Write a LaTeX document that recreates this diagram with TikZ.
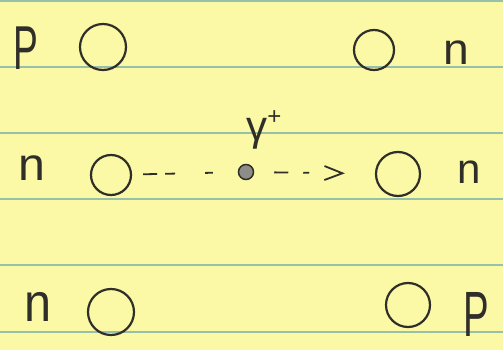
\documentclass[tikz,border=0pt]{standalone}
\usepackage{fontspec}
\setmainfont{Liberation Sans}
\usetikzlibrary{arrows.meta}
\definecolor{paper}{RGB}{251,248,166}
\definecolor{rule}{RGB}{150,192,170}
\definecolor{ink}{RGB}{48,46,40}
\tikzset{
  nuc/.style={circle, draw=ink, line width=2.2pt, inner sep=0pt},
  lab/.style={inner sep=0pt, text=ink},
  ruleline/.style={draw=rule, line width=1.3pt},
  meson/.style={circle, draw=ink, line width=1.5pt, fill=ink!55, inner sep=0pt, minimum size=15pt},
  exch/.style={draw=ink, line width=1.8pt}
}
\newcommand{\hw}[3]{\fontsize{#1}{#1}\selectfont\scalebox{#2}[1]{#3}}
\begin{document}
\begin{tikzpicture}[x=1pt,y=-1pt]
\fill[paper] (0,0) rectangle (503,350);
\useasboundingbox (0,0) rectangle (503,350);
\foreach \yy in {1,67,133,199,265,332} {
  \path[ruleline] (0,\yy) -- (503,\yy);
}
% nucleons
\node[nuc, minimum size=46pt] (tl) at (103,47) {};
\node[nuc, minimum size=40pt] (tr) at (374,50) {};
\node[nuc, minimum size=40pt] (ml) at (111,175) {};
\node[nuc, minimum size=44pt] (mr) at (398,174) {};
\node[nuc, minimum size=46pt] (bl) at (111,312) {};
\node[nuc, minimum size=44pt] (br) at (408,305) {};
% labels
\node[lab] (ptl) at (26,48) {\hw{62}{0.6}{P}};
\node[lab] (ntr) at (456,53) {\hw{44}{1.05}{n}};
\node[lab] (nml) at (32,168) {\hw{46}{1.05}{n}};
\node[lab] (nmr) at (469,172) {\hw{42}{1}{n}};
\node[lab] (nbl) at (38,307) {\hw{54}{0.9}{n}};
\node[lab] (pbr) at (476,314) {\hw{64}{0.6}{P}};
% exchanged particle
\node[meson] (g) at (246,172) {};
\node[lab, anchor=base] (gl) at (264,141) {\fontsize{42}{42}\selectfont γ\raisebox{0.4em}{\fontsize{24}{24}\selectfont +}};
% dashed exchange lines
\draw[exch, dash pattern=on 14pt off 8pt on 10pt off 30pt on 8pt off 40pt, shorten <=11pt, shorten >=25pt] (ml) -- (g);
\draw[exch, dash pattern=on 14pt off 15pt on 6pt off 100pt, shorten <=20pt, shorten >=30pt,
  -{Straight Barb[length=18pt,width=14pt]}] (g) -- (mr);
\end{tikzpicture}
\end{document}
